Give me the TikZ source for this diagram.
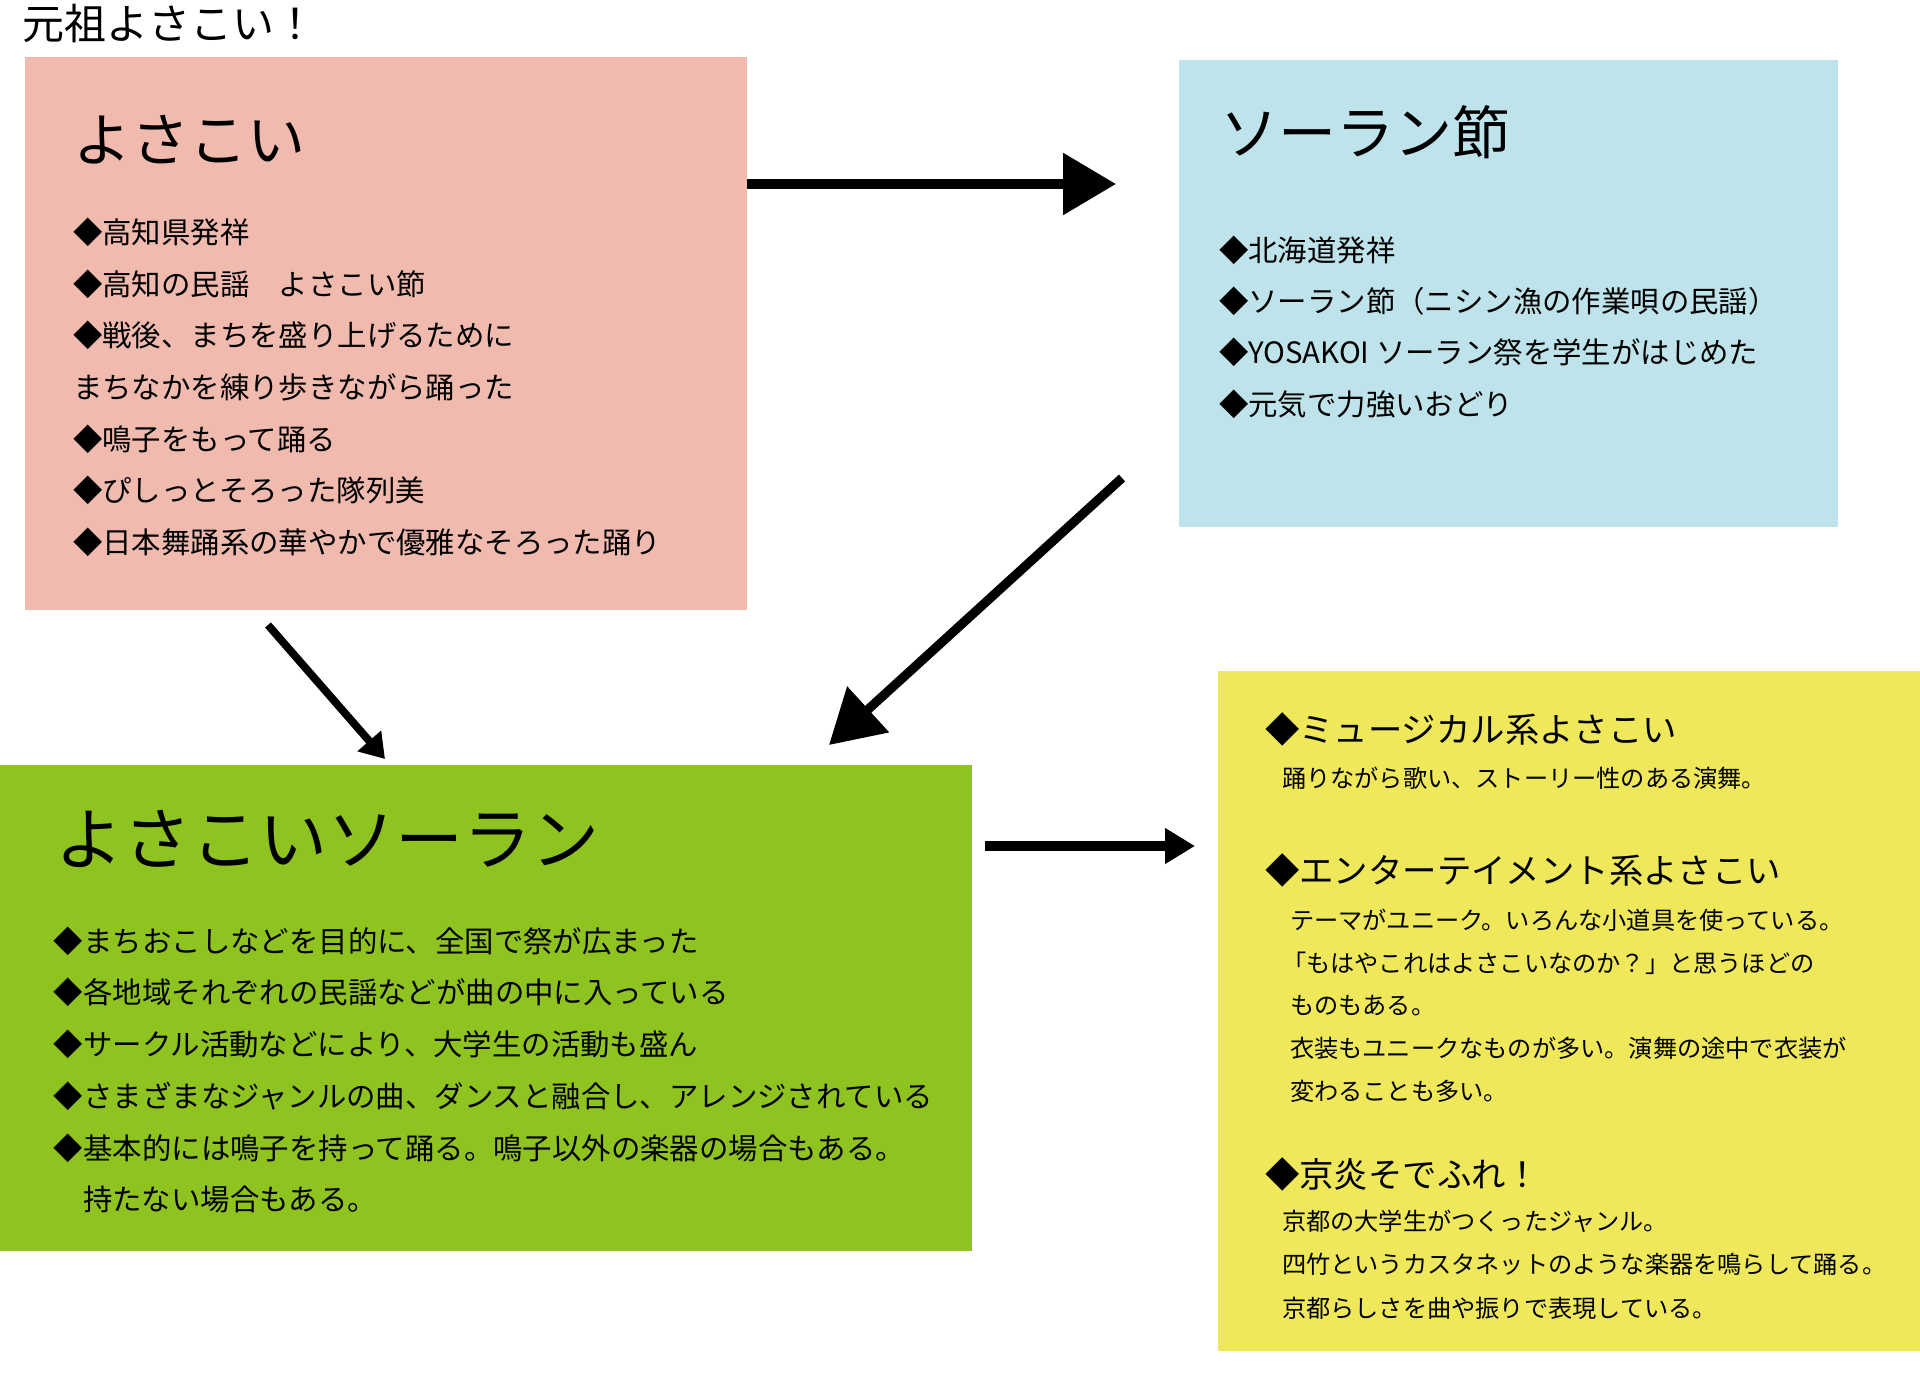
\documentclass[tikz,border=0pt]{standalone}
\usepackage{fontspec}
\setmainfont{Noto Sans CJK JP}
\usetikzlibrary{arrows.meta}
\definecolor{pinkc}{HTML}{F0BBAE}
\definecolor{bluec}{HTML}{BEE3EA}
\definecolor{greenc}{HTML}{8FC31F}
\definecolor{yellowc}{HTML}{EEE85A}
\tikzset{
  box/.style={rectangle,draw=none,inner sep=0pt,outer sep=0pt,anchor=north west},
  txt/.style={anchor=west,inner sep=0pt,outer sep=0pt,text=black},
  ttl/.style={txt,font=\fontsize{21pt}{24pt}\selectfont},
  bighead/.style={txt,font=\fontsize{29pt}{33pt}\selectfont},
  hugehead/.style={txt,font=\fontsize{34pt}{38pt}\selectfont},
  item/.style={txt,font=\fontsize{14.7pt}{17pt}\selectfont},
  yhead/.style={txt,font=\fontsize{17.2pt}{20pt}\selectfont},
  ysub/.style={txt,font=\fontsize{12.1pt}{14pt}\selectfont},
  bigarrow/.style={line width=4.6pt,-{Triangle[length=26.5pt,width=30pt]}},
  smallarrow/.style={line width=3.9pt,-{Triangle[length=12pt,width=15pt]}},
  midarrow/.style={line width=5pt,-{Triangle[length=15pt,width=17pt]}},
}
\begin{document}
\begin{tikzpicture}[x=0.5pt,y=-0.5pt]
\useasboundingbox[fill=white] (0,0) rectangle (1920,1375);

% boxes
\node[box,fill=pinkc,minimum width=361.25pt,minimum height=276.25pt] (pink) at (24.5,57.5) {};
\node[box,fill=bluec,minimum width=329.5pt,minimum height=233.5pt] (blue) at (1179,60) {};
\node[box,fill=greenc,minimum width=486pt,minimum height=243pt] (green) at (0,765) {};
\node[box,fill=yellowc,minimum width=351pt,minimum height=340pt] (yellow) at (1218,671) {};

% title
\node[ttl] (title) at (22,24) {元祖よさこい！};

% pink box text
\node[bighead] (ph) at (73,140) {よさこい};
\node[item] (p1) at (73,232) {◆高知県発祥};
\node[item] (p2) at (73,284) {◆高知の民謡　よさこい節};
\node[item] (p3) at (73,335) {◆戦後、まちを盛り上げるために};
\node[item] (p4) at (73,387) {まちなかを練り歩きながら踊った};
\node[item] (p5) at (73,439) {◆鳴子をもって踊る};
\node[item] (p6) at (73,490) {◆ぴしっとそろった隊列美};
\node[item] (p7) at (73,542) {◆日本舞踊系の華やかで優雅なそろった踊り};

% blue box text
\node[bighead] (bh) at (1220,132) {ソーラン節};
\node[item] (b1) at (1219,250) {◆北海道発祥};
\node[item] (b2) at (1219,301) {◆ソーラン節（ニシン漁の作業唄の民謡）};
\node[item] (b3) at (1219,352) {◆YOSAKOI ソーラン祭を学生がはじめた};
\node[item] (b4) at (1219,404) {◆元気で力強いおどり};

% green box text
\node[hugehead] (gh) at (55,839) {よさこいソーラン};
\node[item] (g1) at (54,941) {◆まちおこしなどを目的に、全国で祭が広まった};
\node[item] (g2) at (54,992) {◆各地域それぞれの民謡などが曲の中に入っている};
\node[item] (g3) at (54,1044) {◆サークル活動などにより、大学生の活動も盛ん};
\node[item] (g4) at (54,1096) {◆さまざまなジャンルの曲、ダンスと融合し、アレンジされている};
\node[item] (g5) at (54,1148) {◆基本的には鳴子を持って踊る。鳴子以外の楽器の場合もある。};
\node[item] (g6) at (83,1199) {持たない場合もある。};

% yellow box text
\node[yhead] (y1) at (1265,729) {◆ミュージカル系よさこい};
\node[ysub] (y1a) at (1282,778) {踊りながら歌い、ストーリー性のある演舞。};
\node[yhead] (y2) at (1265,870) {◆エンターテイメント系よさこい};
\node[ysub] (y2a) at (1290,920) {テーマがユニーク。いろんな小道具を使っている。};
\node[ysub] (y2b) at (1282,963) {「もはやこれはよさこいなのか？」と思うほどの};
\node[ysub] (y2c) at (1290,1006) {ものもある。};
\node[ysub] (y2d) at (1290,1048) {衣装もユニークなものが多い。演舞の途中で衣装が};
\node[ysub] (y2e) at (1290,1091) {変わることも多い。};
\node[yhead] (y3) at (1265,1174) {◆京炎そでふれ！};
\node[ysub] (y3a) at (1282,1221) {京都の大学生がつくったジャンル。};
\node[ysub] (y3b) at (1282,1264) {四竹というカスタネットのような楽器を鳴らして踊る。};
\node[ysub] (y3c) at (1282,1308) {京都らしさを曲や振りで表現している。};

% arrow end points
\coordinate (a1s) at (747,184);
\coordinate (a1e) at (1116,184);
\coordinate (a2s) at (1122,478);
\coordinate (a2e) at (829,745);
\coordinate (a3s) at (268,625);
\coordinate (a3e) at (385,759);
\coordinate (a4s) at (985,846);
\coordinate (a4e) at (1195,846);

\draw[bigarrow] (a1s) -- (a1e);
\draw[bigarrow] (a2s) -- (a2e);
\draw[smallarrow] (a3s) -- (a3e);
\draw[midarrow] (a4s) -- (a4e);
\end{tikzpicture}
\end{document}
